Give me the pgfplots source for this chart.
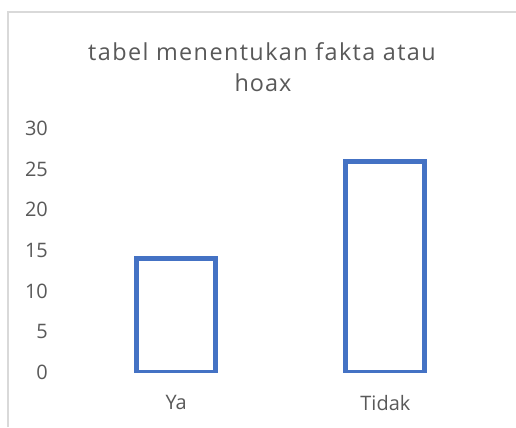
\documentclass[border=0pt]{standalone}
\usepackage{pgfplots}
\pgfplotsset{compat=1.18}
\usepackage{fontspec}
\setmainfont{Open Sans}
\definecolor{barblue}{HTML}{4472C4}
\definecolor{txt}{HTML}{595959}
\definecolor{frame}{HTML}{D9D9D9}
\begin{document}
\begin{tikzpicture}[x=1bp,y=1bp]
\path[use as bounding box, fill=white] (0,0) rectangle (516,427);
\draw[frame, line width=1.5bp] (8,0) -- (8,415) -- (516,415);
\node[anchor=base, text=txt, font=\fontsize{23.5}{28}\selectfont\addfontfeatures{LetterSpace=6}] at (262,367) {tabel menentukan fakta atau};
\node[anchor=base, text=txt, font=\fontsize{23.5}{28}\selectfont\addfontfeatures{LetterSpace=4}] at (263,336) {hoax};
\begin{axis}[
  at={(71.5bp,54.5bp)}, anchor=south west,
  scale only axis, width=418.5bp, height=244bp,
  xmin=-0.5, xmax=1.5, ymin=0, ymax=30,
  axis line style={draw=none},
  ytick={0,5,...,30}, xtick={0,1}, xticklabels={Ya,Tidak},
  major tick length=0pt,
  tick label style={font=\fontsize{20}{24}\selectfont, text=txt},
  /pgf/number format/assume math mode=true,
  yticklabel style={anchor=east, inner sep=0pt, xshift=-23.5bp},
  xticklabel style={anchor=north, inner sep=0pt, yshift=-23bp},
  ybar, bar width=79bp,
]
\addplot[draw=barblue, fill=white, line width=5bp] coordinates {(0,14) (1,26)};
\end{axis}
\end{tikzpicture}
\end{document}
